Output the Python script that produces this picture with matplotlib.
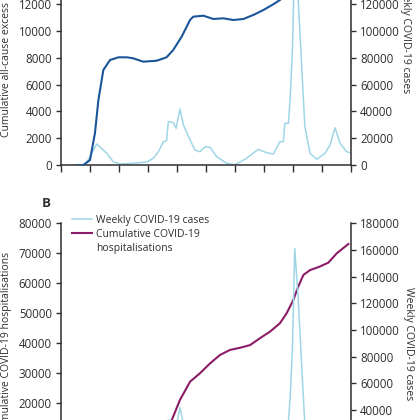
import matplotlib
matplotlib.use("Agg")
import matplotlib.pyplot as plt
from matplotlib.lines import Line2D

plt.rcParams['font.family'] = ['Open Sans', 'DejaVu Sans']
plt.rcParams['font.size'] = 7.5

# x positions are in quarters from Jan 2020 (tick every quarter)
cases_x = [0.45, 0.77, 0.86, 1.0, 1.23, 1.58, 1.80, 2.03, 2.49, 2.96, 3.18, 3.36,
           3.53, 3.64, 3.70, 3.76, 3.87, 3.97, 4.10, 4.22, 4.45, 4.62, 4.79, 4.97,
           5.14, 5.37, 5.71, 6.00, 6.40, 6.80, 7.09, 7.32, 7.55, 7.67, 7.72, 7.84,
           7.90, 7.98, 8.06, 8.18, 8.30, 8.41, 8.59, 8.82, 9.10, 9.28, 9.45, 9.62,
           9.85, 9.97]
weekly_cases = [0, 0, 1000, 6200, 15700, 8700, 2500, 750, 1270, 2240, 5000, 9900,
                17400, 18100, 32300, 32300, 31600, 27400, 41800, 29900, 18700, 11200,
                9900, 13700, 13200, 6200, 1270, 200, 5000, 11700, 9200, 8200, 17400,
                17400, 31100, 31100, 48500, 85800, 161000, 123000, 73400, 28600, 8700,
                4200, 8700, 14900, 27800, 16200, 9900, 9200]

excess_x = [0.60, 0.77, 1.0, 1.17, 1.29, 1.46, 1.69, 1.98, 2.27, 2.49, 2.84, 3.30,
            3.64, 3.87, 4.16, 4.45, 4.56, 4.91, 5.25, 5.60, 5.94, 6.29, 6.63, 6.98,
            7.32, 7.55, 7.80, 8.20, 8.60, 9.00, 9.50, 9.97]
excess_deaths = [0, 0, 373, 2365, 4851, 7090, 7836, 8037, 8037, 7962, 7709, 7784,
                 8037, 8582, 9575, 10821, 11068, 11142, 10896, 10948, 10821, 10896,
                 11194, 11567, 11993, 12313, 12800, 13200, 13450, 13650, 13850, 14000]

hosp_x = [0.70, 1.2, 1.7, 2.5, 3.2, 3.5, 3.82, 4.10, 4.45, 4.79, 5.14, 5.48, 5.83,
          6.17, 6.52, 6.86, 7.21, 7.55, 7.78, 8.01, 8.18, 8.36, 8.59, 8.93, 9.22,
          9.51, 9.91]
hosp_cum = [0, 4000, 8000, 9000, 10000, 11500, 14400, 21100, 27200, 30000, 33300,
            36100, 37800, 38500, 39400, 41700, 43900, 46700, 50000, 54400, 58900,
            62800, 64400, 65600, 66900, 70000, 73100]

light_blue = '#9fd6e6'
dark_blue = '#1b5599'
purple = '#8c1c67'
ink = '#2e2e2e'
tick_size = 8.3

fig = plt.figure(figsize=(4.2, 4.2), dpi=100)


def style(ax, ax2):
    for a in (ax, ax2):
        for s in a.spines.values():
            s.set_color(ink)
            s.set_linewidth(1.1)
        a.spines['top'].set_visible(False)
    ax.spines['right'].set_visible(False)
    ax2.spines['left'].set_visible(False)
    ax2.spines['bottom'].set_visible(False)
    for a in (ax, ax2):
        a.tick_params(axis='y', length=3.8, width=1.0, pad=2.8, colors=ink,
                      labelcolor=ink, labelsize=tick_size)
    ax.tick_params(axis='x', length=5, width=1.0, colors=ink, labelbottom=False)
    ax.set_xlim(0, 10)
    ax.set_xticks(range(0, 11))


# panel A
ax = fig.add_axes([61 / 420, (420 - 165) / 420, 290 / 420, 214.4 / 420])
ax2 = ax.twinx()
ax.plot(excess_x, excess_deaths, color=dark_blue, lw=1.5, zorder=3)
ax2.plot(cases_x, weekly_cases, color=light_blue, lw=1.1)
ax.set_zorder(2)
ax.patch.set_visible(False)
ax.set_ylim(0, 16000)
ax.set_yticks(range(0, 16001, 2000))
ax2.set_ylim(0, 160000)
ax2.set_yticks(range(0, 160001, 20000))
style(ax, ax2)
ax.set_ylabel('Cumulative all-cause excess deaths', color=ink)
ax.yaxis.set_label_coords(-0.168, 0.53)
ax2.set_ylabel('Weekly COVID-19 cases', color=ink, rotation=270, va='bottom')
ax2.yaxis.set_label_coords(1.17, 0.6)

# panel B
fig.text(46 / 420, 1 - 203 / 420, 'B', ha='center', va='center',
         fontweight='bold', fontsize=9.5, color=ink)
bx = fig.add_axes([61 / 420, (420 - 463.3) / 420, 290 / 420, 240 / 420])
bx2 = bx.twinx()
bx.plot(hosp_x, hosp_cum, color=purple, lw=1.5)
bx2.plot(cases_x, weekly_cases, color=light_blue, lw=1.1)
bx.set_ylim(0, 80000)
bx.set_yticks(range(0, 80001, 10000))
bx2.set_ylim(0, 180000)
bx2.set_yticks(range(0, 180001, 20000))
style(bx, bx2)
bx.set_ylabel('Cumulative COVID-19 hospitalisations', color=ink)
bx.yaxis.set_label_coords(-0.168, 0.5)
bx2.set_ylabel('Weekly COVID-19 cases', color=ink, rotation=270, va='bottom')
bx2.yaxis.set_label_coords(1.18, 0.5)

handles = [Line2D([], [], color=light_blue, lw=1.1),
           Line2D([], [], color=purple, lw=1.5),
           Line2D([], [], color='none')]
labels = ['Weekly COVID-19 cases', 'Cumulative COVID-19', 'hospitalisations']
fig.legend(handles, labels, loc='upper left', bbox_to_anchor=(72 / 420, 1 - 215 / 420),
           frameon=False, handlelength=1.9, handletextpad=0.4, borderpad=0,
           borderaxespad=0, labelspacing=0.3, labelcolor=ink)

fig.savefig('out.png', dpi=100)
